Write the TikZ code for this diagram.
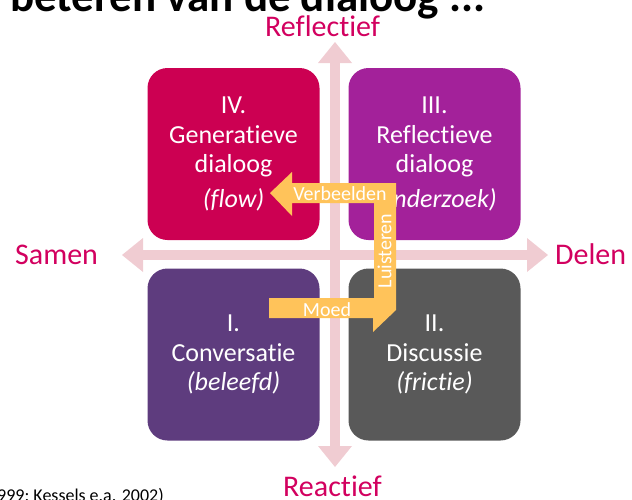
\documentclass[tikz,border=0pt]{standalone}
\usepackage{fontspec}
\setmainfont{Carlito}[Ligatures={NoCommon,NoContextual}]
\usetikzlibrary{arrows.meta}

\definecolor{rood}{RGB}{204,0,82}
\definecolor{paars}{RGB}{163,33,154}
\definecolor{donkerpaars}{RGB}{94,60,126}
\definecolor{grijs}{RGB}{89,89,89}
\definecolor{oranje}{RGB}{255,195,90}
\definecolor{roze}{RGB}{240,204,210}
\definecolor{labelrood}{RGB}{210,0,95}

\tikzset{
  kwadrant/.style={rounded corners=20pt, minimum width=172pt, minimum height=172pt,
    text=white, align=center, font=\fontsize{26}{29.5}\selectfont},
  as/.style={draw=roze, line width=10pt,
    {Triangle[length=21pt,width=34pt,line width=0pt]}-{Triangle[length=21pt,width=34pt,line width=0pt]}},
  aslabel/.style={text=labelrood, inner sep=0pt, anchor=base west, font=\fontsize{30}{30}\selectfont},
  pijltekst/.style={text=white, inner sep=0pt, font=\fontsize{20}{20}\selectfont}
}

\begin{document}
\begin{tikzpicture}[x=1pt,y=-1pt]

    \useasboundingbox (0,0) rectangle (632,499);

    \node[anchor=base west, inner sep=0pt, font=\bfseries\fontsize{45}{45}\selectfont] (titel) at (10,11) {beteren van de dialoog ...};
    \node[anchor=base west, inner sep=0pt, font=\fontsize{18}{18}\selectfont] (bron) at (-3,501) {999; Kessels e.a. 2002)};

    \coordinate (boven) at (335,42);
    \coordinate (onder) at (335,467);
    \coordinate (links) at (122,255);
    \coordinate (rechts) at (548,255);
    \draw[as] (links) -- (rechts);
    \draw[as] (boven) -- (onder);

    \node[aslabel] (R) at (265,36) {Reflectief};
    \node[aslabel] (Re) at (283,496) {Reactief};
    \node[aslabel] (S) at (15,264) {Samen};
    \node[aslabel] (D) at (555,264) {Delen};

    \node[kwadrant, fill=rood] (IV) at (233.5,154) {IV.\\Generatieve\\dialoog\\[5pt]\textit{(flow)}};
    \node[kwadrant, fill=paars] (III) at (434.5,154) {III.\\Reflectieve\\dialoog\\[5pt]\textit{(onderzoek)}};
    \node[kwadrant, fill=donkerpaars] (I) at (233.5,354.5) {I.\\Conversatie\\\textit{(beleefd)}};
    \node[kwadrant, fill=grijs] (II) at (434.5,354.5) {II.\\Discussie\\\textit{(frictie)}};

    \fill[oranje] (270,193) -- (292,172) -- (292,183) -- (396,183) -- (396,310) -- (373,332)
      -- (373,318) -- (269,318) -- (269,298) -- (374,298) -- (374,203) -- (292,203) -- (292,216) -- cycle;
    \node[pijltekst] (verb) at (340,193.5) {Verbeelden};
    \node[pijltekst, rotate=90] (luis) at (384.5,251) {Luisteren};
    \node[pijltekst] (moed) at (327,310) {Moed};

\end{tikzpicture}
\end{document}
